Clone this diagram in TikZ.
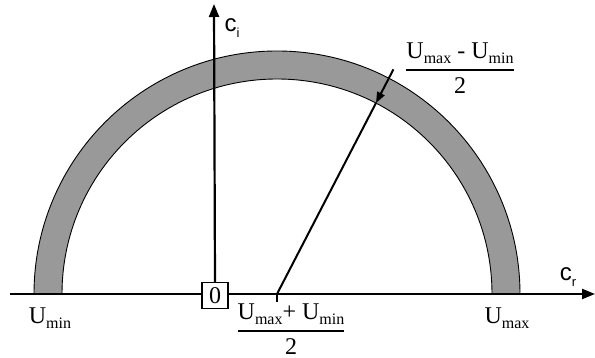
\documentclass[tikz,border=0pt]{standalone}
\usepackage{amsmath}
\usepackage{fontspec}
\setmainfont{Liberation Serif}
\newfontfamily\axisfont{Liberation Sans}
\usetikzlibrary{arrows.meta}

\newcommand{\Usb}[1]{U\raisebox{-0.45ex}{\fontsize{16}{16}\selectfont #1}}
\newcommand{\halffrac}[1]{$\genfrac{}{}{1.8pt}{0}{\text{#1}}{\text{2}}$}

\begin{document}
\begin{tikzpicture}[
x=1pt,y=1pt,
axis/.style={line width=2.2pt,-{Triangle[length=13pt,width=10pt]}},
lbl/.style={inner sep=0pt,font=\fontsize{24}{26}\selectfont},
albl/.style={inner sep=0pt,font=\axisfont\fontsize{24}{26}\selectfont},
zbox/.style={draw,line width=1.1pt,fill=white,minimum size=26pt,inner sep=0pt,font=\fontsize{24}{26}\selectfont}]
\useasboundingbox (0,0) rectangle (595,358);
% centre of the circle and axis ends
\coordinate (c) at (277,64);
\coordinate (xstart) at (10,64);
\coordinate (xend) at (595,64);
\coordinate (ciend) at (214,354);
% shaded half ring
\fill[black!40] (c) ++(0:243) arc (0:180:243) -- ++(28,0) arc (180:0:215) -- cycle;
\draw[line width=0.9pt] (c) ++(0:243) arc (0:180:243);
\draw[line width=0.9pt] (c) ++(0:215) arc (0:180:215);
% axes
\draw[axis] (xstart) -- (xend);
\node[zbox] (zero) at (215,62.5) {0};
\draw[axis] (zero.north) -- (ciend);
\node[albl] (ci) at (232,330) {c\raisebox{-0.5ex}{\fontsize{13}{13}\selectfont i}};
\node[albl] (cr) at (568,81) {c\raisebox{-0.5ex}{\fontsize{13}{13}\selectfont r}};
% radius
\coordinate (tip) at ([shift={(62.6:215)}]c);
\coordinate (tail) at ([shift={(62.6:253)}]c);
\draw[line width=2pt] (c) -- (tip);
\draw[line width=2pt,-{Triangle[length=11pt,width=8pt]}] (tail) -- (tip);
\draw[line width=2pt] (c) -- ++(0,-8);
% labels
\node[lbl] (umin) at (50,40) {\Usb{min}};
\node[lbl] (umax) at (507,40) {\Usb{max}};
\node[lbl] (mid) at (291,29) {\halffrac{\Usb{max}+ \Usb{min}}};
\node[lbl] (half) at (460,290) {\halffrac{\Usb{max} - \Usb{min}}};
\end{tikzpicture}
\end{document}
